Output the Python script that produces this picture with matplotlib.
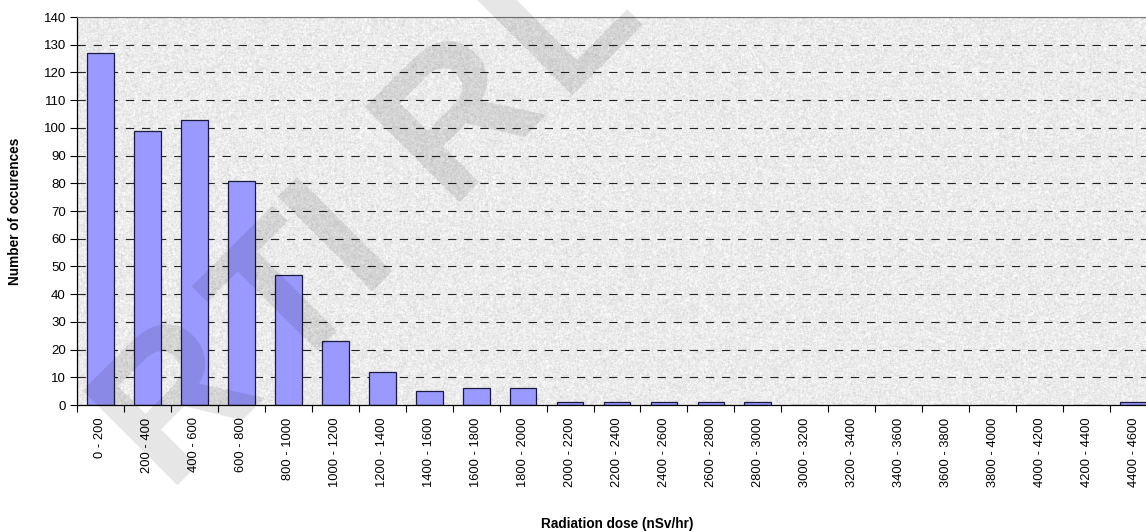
import numpy as np
import matplotlib
matplotlib.use("Agg")
import matplotlib.pyplot as plt

plt.rcParams['font.family'] = ['Liberation Sans', 'DejaVu Sans']

# Dose bins (nSv/hr) and number of occurrences in each
categories = ["0 - 200", "200 - 400", "400 - 600", "600 - 800", "800 - 1000",
              "1000 - 1200", "1200 - 1400", "1400 - 1600", "1600 - 1800",
              "1800 - 2000", "2000 - 2200", "2200 - 2400", "2400 - 2600",
              "2600 - 2800", "2800 - 3000", "3000 - 3200", "3200 - 3400",
              "3400 - 3600", "3600 - 3800", "3800 - 4000", "4000 - 4200",
              "4200 - 4400", "4400 - 4600"]
counts = [127, 99, 103, 81, 47, 23, 12, 5, 6, 6, 1, 1, 1, 1, 1,
          0, 0, 0, 0, 0, 0, 0, 1]
y_ticks = list(range(0, 141, 10))

W, H = 1146, 531
fig = plt.figure(figsize=(W / 100, H / 100), dpi=100)
fig.patch.set_facecolor("white")

# plot area runs past the right edge of the figure
ax = fig.add_axes([77 / W, 126 / H, 1080 / W, 388 / H])
ax.set_xlim(-0.5, len(categories) - 0.5)
ax.set_ylim(0, 140)

# granite-like texture for the plot area
rng = np.random.default_rng(7)
tex = rng.normal(0.0, 1.0, (400, 1100))
k = np.array([1, 2, 1], float)
tex = (np.apply_along_axis(lambda r: np.convolve(r, k, 'same'), 1, tex)
       + np.apply_along_axis(lambda c: np.convolve(c, k, 'same'), 0, tex)) / 8
tex = np.clip(0.92 + 0.045 * tex, 0.75, 1.0)
ax.imshow(tex, cmap="gray", vmin=0, vmax=1, aspect="auto",
          extent=(-0.5, len(categories) - 0.5, 0, 140), zorder=0,
          interpolation="nearest")

# dashed gridlines
for v in y_ticks[1:]:
    ax.axhline(v, color="black", lw=0.8, ls=(0, (7.5, 7)), zorder=1, alpha=0.85)

x = np.arange(len(categories))
ax.bar(x, counts, width=0.57, color="#9999FF", edgecolor="#1a1a40",
       linewidth=0.9, zorder=2)

# ticks and labels
ax.set_xticks(x)
ax.set_xticklabels(categories, rotation=90, fontsize=9.3, va="top")
ax.tick_params(axis="x", which="major", length=0, pad=9)
ax.set_xticks(np.arange(-0.5, len(categories), 1), minor=True)
ax.tick_params(axis="x", which="minor", length=5, width=0.8, direction="out")
ax.set_yticks(y_ticks)
ax.set_yticklabels([str(v) for v in y_ticks], fontsize=9.5)
ax.tick_params(axis="y", length=5, width=0.8, direction="out", pad=3)

for s in ("left", "bottom"):
    ax.spines[s].set_color("black")
    ax.spines[s].set_linewidth(0.9)
ax.spines["top"].set_color("#777777")
ax.spines["top"].set_linewidth(0.8)
ax.spines["right"].set_visible(False)

ax.set_ylabel("Number of occurences", fontsize=9.8, fontweight="bold",
              va="center")
ax.yaxis.set_label_coords(-0.0574, 0.5)
ax.set_xlabel("Radiation dose (nSv/hr)", fontsize=9.8, fontweight="bold",
              va="center")
ax.xaxis.set_label_coords(0.5, -0.307)

# diagonal watermark letters (baseline-centre positions in pixels)
marks = [("R", 165, 386), ("T", 278, 290), ("I", 330, 222),
         ("R", 447, 103), ("L", 552, 4)]
shift = 0.707 * 70
for ch, px, py in marks:
    fig.text((px + shift) / W, 1 - (py + shift) / H, ch, fontsize=140,
             fontweight="bold", color="black", alpha=0.1, rotation=45,
             ha="center", va="baseline", rotation_mode="anchor", zorder=10,
             family=["Liberation Sans", "DejaVu Sans"])

fig.savefig("out.png", dpi=100)
